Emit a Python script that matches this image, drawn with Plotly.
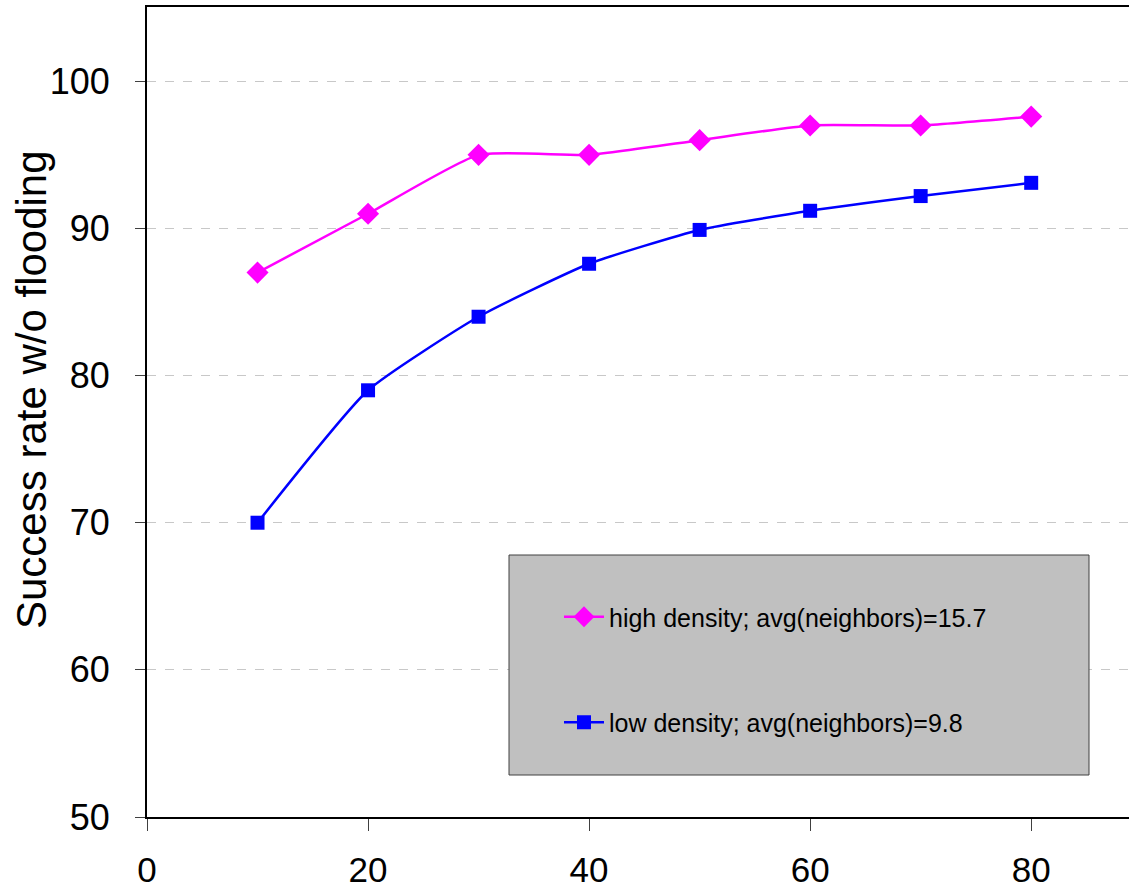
import plotly.graph_objects as go

x_vals = [10, 20, 30, 40, 50, 60, 70, 80]
high_density = [87.0, 91.0, 95.0, 95.0, 96.0, 97.0, 97.0, 97.6]
low_density = [70.0, 79.0, 84.0, 87.6, 89.9, 91.2, 92.2, 93.1]
high_name = "high density; avg(neighbors)=15.7"
low_name = "low density; avg(neighbors)=9.8"
y_title = "Success rate w/o flooding"
x_ticks = [0, 20, 40, 60, 80]
y_ticks = [50, 60, 70, 80, 90, 100]

NARROW = "Liberation Sans Narrow, Arial Narrow, Liberation Sans, Arial, sans-serif"
REG = "Liberation Sans, Arial, sans-serif"

fig = go.Figure()
fig.add_trace(go.Scatter(
    x=x_vals, y=high_density, name=high_name, mode="lines+markers",
    line=dict(color="#FF00FF", width=2.5, shape="spline", smoothing=0.5),
    marker=dict(symbol="diamond", size=17, color="#FF00FF"),
    legendgroup="a",
))
fig.add_trace(go.Scatter(
    x=x_vals, y=low_density, name=low_name, mode="lines+markers",
    line=dict(color="#0000FF", width=2.5, shape="spline", smoothing=0.5),
    marker=dict(symbol="square", size=14, color="#0000FF"),
    legendgroup="b",
))

fig.add_shape(type="rect", xref="paper", yref="paper",
              x0=(509 - 147) / 982, x1=(1089 - 147) / 982,
              y0=(817 - 775) / 810, y1=(817 - 555) / 810,
              fillcolor="#C0C0C0", line=dict(color="#404040", width=1), layer="above")

fig.add_annotation(
    text=y_title, textangle=-90, showarrow=False,
    xref="paper", yref="paper",
    x=(31 - 147) / 982, y=(817 - 390) / 810, xanchor="center", yanchor="middle",
    font=dict(family=REG, size=42, color="black"),
)

fig.update_layout(
    width=1129, height=892,
    margin=dict(l=147, r=0, t=7, b=75, autoexpand=False),
    plot_bgcolor="white", paper_bgcolor="white",
    showlegend=True,
    legend=dict(
        x=(559 - 147) / 982, y=(817 - 594) / 810, xanchor="left", yanchor="top",
        bgcolor="rgba(0,0,0,0)", borderwidth=0,
        font=dict(family=NARROW, size=25, color="black"),
        tracegroupgap=70, itemwidth=40,
    ),
    xaxis=dict(
        range=[0, 88.85], tickvals=x_ticks, showgrid=False, zeroline=False,
        showline=True, linecolor="black", linewidth=2, mirror=True,
        ticks="outside", ticklen=12, tickcolor="#404040", tickwidth=1,
        tickfont=dict(family=NARROW, size=35, color="black"),
        ticklabelstandoff=9, automargin=False,
    ),
    yaxis=dict(
        range=[50, 105.05], tickvals=y_ticks, zeroline=False,
        showgrid=True, gridcolor="#C8C8C8", griddash="dash", gridwidth=1,
        showline=True, linecolor="black", linewidth=2, mirror=False,
        ticks="outside", ticklen=10, tickcolor="#404040", tickwidth=1,
        tickfont=dict(family=NARROW, size=36, color="black"),
        ticklabelstandoff=18, automargin=False,
    ),
)

fig.write_html("out.html")
